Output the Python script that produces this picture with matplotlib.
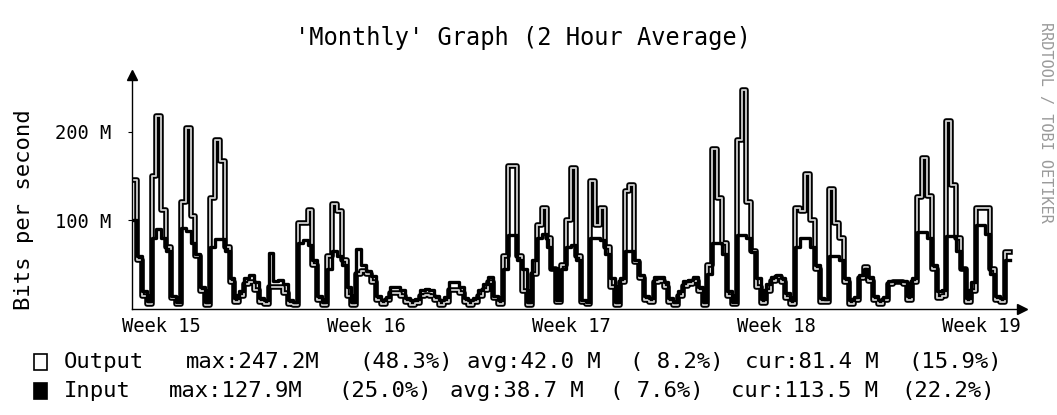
import matplotlib
matplotlib.use("Agg")
import matplotlib.pyplot as plt
from matplotlib.patches import Rectangle
import matplotlib.patheffects as pe

# 4-hour samples, in Mbit/s
STEP_H = 4
output_mbps = [
    146, 55, 15, 6, 150, 218, 112, 70, 12, 6, 121, 204,
    105, 60, 20, 5, 125, 191, 167, 70, 30, 8, 15, 28,
    30, 22, 8, 6, 25, 25, 25, 18, 6, 5, 97, 97,
    112, 50, 10, 5, 60, 118, 110, 55, 15, 5, 40, 43,
    40, 30, 10, 6, 10, 18, 18, 15, 8, 5, 7, 15,
    16, 15, 10, 5, 8, 22, 22, 18, 8, 5, 8, 15,
    22, 30, 12, 6, 60, 161, 161, 60, 20, 5, 40, 95,
    114, 80, 45, 8, 50, 100, 159, 60, 8, 6, 144, 95,
    114, 70, 25, 5, 30, 133, 140, 53, 35, 10, 8, 30,
    32, 25, 8, 5, 15, 26, 28, 32, 20, 5, 50, 180,
    125, 75, 15, 6, 191, 247, 121, 65, 25, 7, 20, 32,
    36, 30, 12, 6, 114, 110, 152, 100, 45, 8, 8, 135,
    97, 80, 30, 6, 10, 35, 47, 32, 10, 6, 10, 28,
    30, 30, 28, 10, 30, 126, 170, 127, 45, 12, 15, 212,
    140, 80, 45, 8, 20, 114, 114, 114, 45, 10, 8, 64,
]
input_mbps = [
    100, 60, 20, 9, 80, 90, 80, 65, 15, 8, 91, 88,
    75, 62, 25, 8, 70, 79, 79, 66, 35, 12, 20, 35,
    38, 30, 12, 10, 63, 32, 33, 28, 10, 8, 75, 78,
    72, 55, 15, 8, 45, 65, 60, 50, 25, 8, 68, 50,
    43, 37, 15, 10, 14, 25, 25, 22, 12, 10, 11, 22,
    23, 22, 15, 10, 14, 30, 30, 25, 12, 10, 12, 22,
    28, 36, 15, 10, 45, 83, 83, 55, 45, 8, 55, 80,
    85, 70, 45, 10, 45, 70, 72, 55, 10, 8, 80, 80,
    78, 62, 35, 8, 35, 66, 66, 55, 38, 15, 12, 36,
    36, 30, 12, 8, 20, 32, 33, 36, 25, 8, 40, 75,
    75, 62, 20, 8, 83, 83, 80, 64, 35, 11, 28, 36,
    38, 35, 18, 10, 70, 80, 80, 70, 50, 12, 11, 60,
    60, 55, 35, 10, 14, 38, 45, 36, 15, 10, 14, 32,
    32, 32, 32, 15, 35, 87, 87, 80, 50, 20, 22, 82,
    82, 65, 45, 12, 30, 95, 95, 85, 40, 15, 12, 55,
]
week_labels = ["Week 15", "Week 16", "Week 17", "Week 18", "Week 19"]
week_label_hours = [24.5, 192.5, 360.5, 528.5, 696.5]
ytick_vals = [100, 200]
ytick_labels = ["100 M", "200 M"]

legend_rows = [
    ("Output", ["max:247.2M", "(48.3%)", "avg:42.0 M", "( 8.2%)",
                "cur:81.4 M", "(15.9%)"]),
    ("Input", ["max:127.9M", "(25.0%)", "avg:38.7 M", "( 7.6%)",
               "cur:113.5 M", "(22.2%)"]),
]

W, H = 1057, 415
MONO = "DejaVu Sans Mono"
plt.rcParams["font.family"] = MONO

hours = [i * STEP_H for i in range(len(output_mbps) + 1)]
out_y = output_mbps + [output_mbps[-1]]
in_y = input_mbps + [input_mbps[-1]]

fig = plt.figure(figsize=(W / 100, H / 100), dpi=100)


def fx(px):
    return px / W


def fy(py):
    return 1 - py / H


ax = fig.add_axes([fx(132), fy(309), fx(1022) - fx(132), fy(75) - fy(309)])
ax.set_xlim(0, 730)
ax.set_ylim(0, 264)

# output drawn as an outlined line, input as a solid black line
ax.step(hours, out_y, where="post", color="#d0d0d0", lw=1.3,
        path_effects=[pe.Stroke(linewidth=4.0, foreground="black"),
                      pe.Normal()], zorder=2)
ax.step(hours, in_y, where="post", color="black", lw=2.4, zorder=3)

for side in ("top", "right"):
    ax.spines[side].set_visible(False)
ax.spines["left"].set_linewidth(1.0)
ax.spines["bottom"].set_linewidth(1.0)
ax.plot(0, 1, marker="^", color="black", ms=7, transform=ax.transAxes,
        clip_on=False)
ax.plot(1, 0, marker=">", color="black", ms=7, transform=ax.transAxes,
        clip_on=False)

ax.set_yticks(ytick_vals)
ax.set_yticklabels(ytick_labels, fontsize=13.5)
ax.tick_params(axis="y", length=3, width=0.8, pad=12)
ax.set_xticks(week_label_hours)
ax.set_xticklabels(week_labels, fontsize=13.5)
ax.tick_params(axis="x", length=0, pad=6)

fig.text(fx(523), fy(38), "'Monthly' Graph (2 Hour Average)", fontsize=17,
         ha="center", va="center")
fig.text(fx(24), fy(210), "Bits per second", fontsize=16, rotation=90,
         ha="center", va="center")
fig.text(fx(1046), fy(122), "RRDTOOL / TOBI OETIKER", fontsize=11,
         rotation=-90, ha="center", va="center", color="#9a9a9a")

# legend block
row_y = [362, 391]
field_x = [[186, 359, 467, 630, 745, 908],
           [169, 338, 450, 610, 731, 901]]
for r, (name, fields) in enumerate(legend_rows):
    y = row_y[r]
    face = "white" if r == 0 else "black"
    fig.add_artist(Rectangle((fx(34), fy(y + 8)), fx(13), 16 / H,
                             transform=fig.transFigure, facecolor=face,
                             edgecolor="black", lw=1.2))
    fig.text(fx(64), fy(y), name, fontsize=16, ha="left", va="center")
    for x, s in zip(field_x[r], fields):
        fig.text(fx(x), fy(y), s, fontsize=16, ha="left", va="center")

fig.savefig("out.png", dpi=100)
